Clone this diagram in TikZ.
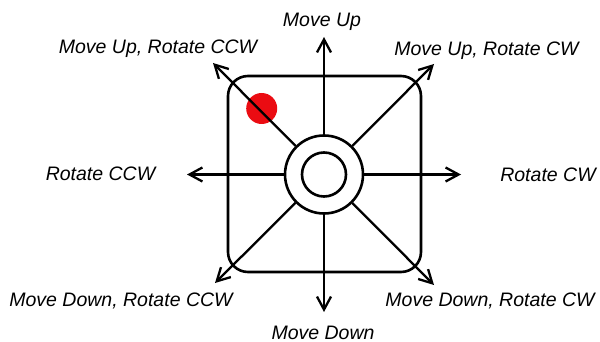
\documentclass[tikz,border=0pt]{standalone}
\usepackage{fontspec}
\setmainfont{Liberation Sans}
\usetikzlibrary{arrows.meta}
\definecolor{dotred}{RGB}{235,12,18}
\begin{document}
\begin{tikzpicture}[x=1pt,y=-1pt,
  lbl/.style={font=\fontsize{19.5}{22}\selectfont\itshape, inner sep=0pt, anchor=base},
  dir/.style={line width=2.3pt, -{Straight Barb[length=13pt,width=14pt,line width=2.3pt]}},
  frame/.style={line width=2.6pt, rounded corners=20pt},
  knob/.style={circle, draw, line width=2.6pt, inner sep=0pt, minimum size=#1}
]
\useasboundingbox (0,0) rectangle (600,342);
\fill[white] (0,0) rectangle (600,342);
% frame
\draw[frame] (228,76) rectangle (421,272);
% red dot
\fill[dotred] (261.7,108.5) circle (15.5pt);
% center
\node[knob=78pt] (c) at (324,174.5) {};
\node[knob=44pt] (ci) at (324,174.5) {};
% tips
\coordinate (tN)  at (324,37);
\coordinate (tS)  at (324,312);
\coordinate (tW)  at (187,174.5);
\coordinate (tE)  at (461,174.5);
\coordinate (tNW) at (213,63);
\coordinate (tNE) at (434,64);
\coordinate (tSW) at (215,283);
\coordinate (tSE) at (434,285);
\foreach \t in {tN,tS,tW,tE,tNW,tNE,tSW,tSE} \draw[dir] (c) -- (\t);
% labels
\node[lbl] (lN)  at (322,27)  {Move Up};
\node[lbl] (lNW) at (158,54)  {Move Up, Rotate CCW};
\node[lbl] (lNE) at (486.5,56) {Move Up, Rotate CW};
\node[lbl] (lW)  at (100.5,181) {Rotate CCW};
\node[lbl] (lE)  at (548,181.5) {Rotate CW};
\node[lbl] (lSW) at (121,306) {Move Down, Rotate CCW};
\node[lbl] (lSE) at (490,306) {Move Down, Rotate CW};
\node[lbl] (lS)  at (323,339) {Move Down};
\end{tikzpicture}
\end{document}
